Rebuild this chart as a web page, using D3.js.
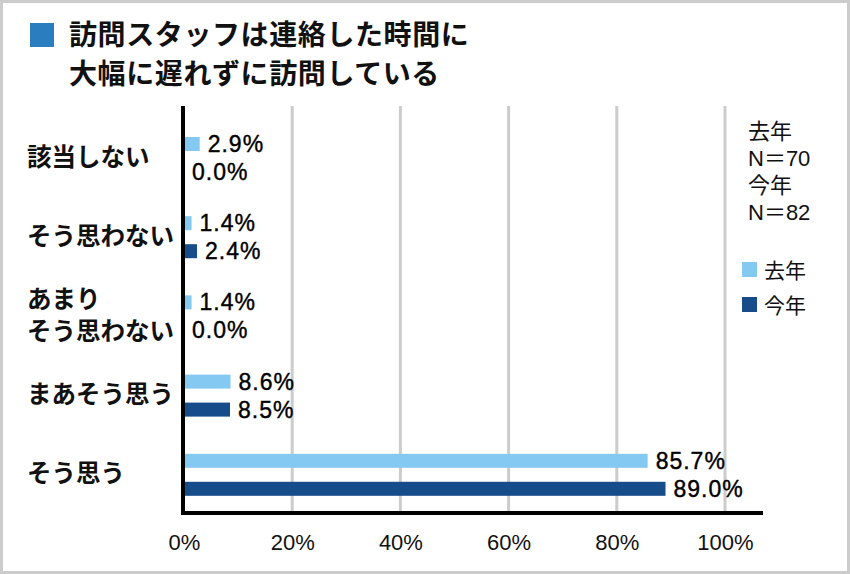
<!DOCTYPE html>
<html>
<head>
<meta charset="utf-8">
<script src="https://cdn.jsdelivr.net/npm/d3@7"></script>
<style>
  body { margin: 0; background: #fff; }
  text { font-family: "Liberation Sans", "Noto Sans CJK JP", sans-serif; fill: #111; }
</style>
</head>
<body>
<div id="chart"></div>
<script>
var title_lines = ["訪問スタッフは連絡した時間に", "大幅に遅れずに訪問している"];
var categories = ["該当しない", "そう思わない", "あまりそう思わない", "まあそう思う", "そう思う"];
var category_lines = [["該当しない"], ["そう思わない"], ["あまり", "そう思わない"], ["まあそう思う"], ["そう思う"]];
var series_names = ["去年", "今年"];
var last_year = [2.9, 1.4, 1.4, 8.6, 85.7];
var this_year = [0.0, 2.4, 0.0, 8.5, 89.0];
var tick_values = [0, 20, 40, 60, 80, 100];
var sample_notes = ["去年", "N＝70", "今年", "N＝82"];

var colors = { "去年": "#84c9f1", "今年": "#154c89" };

var width = 850, height = 574;

var svg = d3.select("#chart").append("svg")
    .attr("width", width)
    .attr("height", height);

// outer frame
svg.append("rect")
    .attr("x", 1.5).attr("y", 1.5)
    .attr("width", width - 3).attr("height", height - 3)
    .style("fill", "#fff")
    .style("stroke", "#cccccc")
    .style("stroke-width", 3);

// title
svg.append("rect")
    .attr("x", 30).attr("y", 23)
    .attr("width", 24).attr("height", 24)
    .style("fill", "#2a7ec0");

svg.selectAll(".title")
    .data(title_lines)
    .enter().append("text")
    .attr("class", "title")
    .attr("x", 69)
    .attr("y", (d, i) => 35 + i * 39)
    .attr("dominant-baseline", "central")
    .style("font-size", "28px")
    .style("letter-spacing", "0.6px")
    .style("font-weight", "bold")
    .text(d => d);

var x = d3.scaleLinear().domain([0, 100]).range([184, 725]);
var y = d3.scaleBand().domain(categories).range([119, 515]);
var inner = d3.scaleBand().domain(series_names).range([18, 60]).paddingInner(0.5);

// gridlines
svg.selectAll(".grid")
    .data(tick_values.slice(1))
    .enter().append("line")
    .attr("x1", d => x(d)).attr("x2", d => x(d))
    .attr("y1", 106).attr("y2", 513)
    .style("stroke", "#cccccc")
    .style("stroke-width", 3);

// bars
var rows = categories.map((c, i) => ({ cat: c, values: [last_year[i], this_year[i]] }));

var groups = svg.selectAll(".row")
    .data(rows)
    .enter().append("g")
    .attr("transform", d => "translate(0," + y(d.cat) + ")");

groups.selectAll("rect")
    .data(d => d.values.map((v, k) => ({ s: series_names[k], v: v })))
    .enter().append("rect")
    .attr("x", x(0))
    .attr("y", d => inner(d.s))
    .attr("width", d => x(d.v) - x(0))
    .attr("height", inner.bandwidth())
    .style("fill", d => colors[d.s]);

groups.selectAll(".val")
    .data(d => d.values.map((v, k) => ({ s: series_names[k], v: v })))
    .enter().append("text")
    .attr("class", "val")
    .attr("x", d => x(d.v) + 8)
    .attr("y", d => inner(d.s) + inner.bandwidth() / 2)
    .attr("dominant-baseline", "central")
    .style("font-size", "23px")
    .style("letter-spacing", "1px")
    .style("fill", "#000")
    .style("stroke", "#000")
    .style("stroke-width", 0.4)
    .text(d => d.v.toFixed(1) + "%");

// category labels
var catText = svg.selectAll(".cat")
    .data(categories)
    .enter().append("text")
    .attr("class", "cat")
    .attr("x", 27)
    .attr("y", d => y(d) + y.bandwidth() / 2 - 2)
    .attr("dominant-baseline", "central")
    .style("font-size", "24.5px")
    .style("font-weight", "bold");

catText.each(function(d, i) {
    var lines = category_lines[i];
    var t = d3.select(this);
    lines.forEach(function(l, j) {
        t.append("tspan")
            .attr("x", 27)
            .attr("dy", j == 0 ? (-(lines.length - 1) * 16) : 32)
            .text(l);
    });
});

// axes lines
svg.append("line")
    .attr("x1", x(0) - 1).attr("x2", x(0) - 1)
    .attr("y1", 106).attr("y2", 515)
    .style("stroke", "#000").style("stroke-width", 4);

svg.append("line")
    .attr("x1", x(0) - 3).attr("x2", 763)
    .attr("y1", 513).attr("y2", 513)
    .style("stroke", "#000").style("stroke-width", 4);

// tick labels
var xAxis = d3.axisBottom(x).tickValues(tick_values).tickSize(0).tickFormat(d => d + "%");
var ax = svg.append("g")
    .attr("transform", "translate(0,531)")
    .call(xAxis);
ax.select(".domain").remove();
ax.selectAll("text")
    .style("font-size", "22px")
    .style("font-family", "Liberation Sans, sans-serif")
    .style("fill", "#111");

// sample sizes
svg.selectAll(".note")
    .data(sample_notes)
    .enter().append("text")
    .attr("x", 748)
    .attr("y", (d, i) => 131 + i * 27)
    .attr("dominant-baseline", "central")
    .style("font-size", "22px")
    .text(d => d);

// legend
var legend = svg.selectAll(".legend")
    .data(series_names)
    .enter().append("g")
    .attr("transform", (d, i) => "translate(742," + (262 + i * 35) + ")");

legend.append("rect")
    .attr("width", 15).attr("height", 15)
    .style("fill", d => colors[d]);

legend.append("text")
    .attr("x", 22).attr("y", 8)
    .attr("dominant-baseline", "central")
    .style("font-size", "21px")
    .text(d => d);
</script>
</body>
</html>
